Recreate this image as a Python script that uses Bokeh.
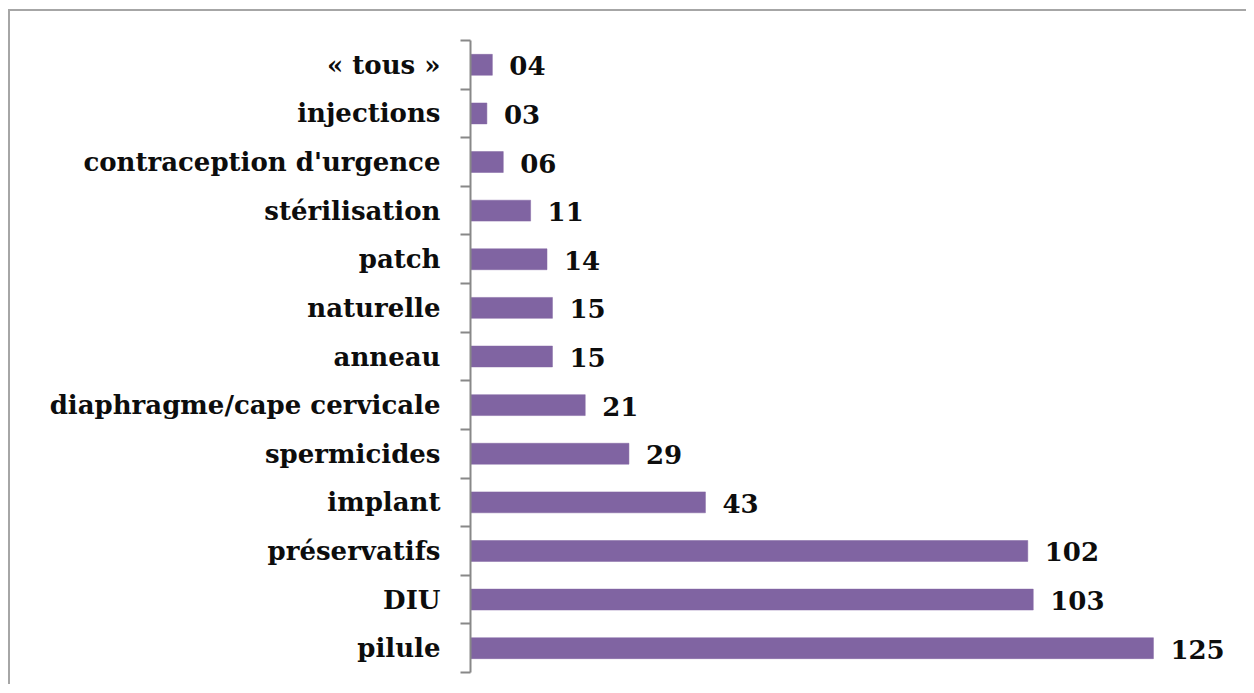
from bokeh.plotting import figure
from bokeh.models import ColumnDataSource, Range1d, FixedTicker
from bokeh.core.properties import value
from bokeh.embed import file_html
from bokeh.resources import INLINE

categories = ["« tous »", "injections", "contraception d'urgence", "stérilisation",
              "patch", "naturelle", "anneau", "diaphragme/cape cervicale",
              "spermicides", "implant", "préservatifs", "DIU", "pilule"]
counts = [4, 3, 6, 11, 14, 15, 15, 21, 29, 43, 102, 103, 125]
count_labels = ["04", "03", "06", "11", "14", "15", "15", "21", "29", "43", "102", "103", "125"]

n = len(categories)
ypos = [n - 1 - i + 0.5 for i in range(n)]

src = ColumnDataSource(dict(cat=categories, cnt=counts, lab=count_labels, y=ypos))

FONT = "DejaVu Serif"
FS = "26px"

p = figure(width=1238, height=675, output_backend="svg", toolbar_location=None,
           x_range=Range1d(0, 142.4), y_range=Range1d(0, n),
           min_border_left=460, min_border_top=29, min_border_bottom=14, min_border_right=0)
p.styles = {"border-top": "2px solid #a6a6a6", "border-left": "2px solid #a6a6a6",
            "margin-top": "9px", "margin-left": "8px"}
p.outline_line_color = None
p.xgrid.visible = False
p.ygrid.visible = False
p.xaxis.visible = False

p.hbar(y="y", right="cnt", left=0, height=0.43, source=src,
       fill_color="#8064A2", line_color="#8064A2", line_width=0.5)
p.text(x="cnt", y="y", text="lab", source=src, x_offset=17, y_offset=1,
       text_baseline="middle", text_align="left",
       text_font=value(FONT), text_font_style="bold", text_font_size=FS,
       text_color="#0d0d0d")

ax = p.yaxis[0]
ax.ticker = FixedTicker(ticks=ypos, minor_ticks=list(range(n + 1)))
ax.major_label_overrides = {y: c for y, c in zip(ypos, categories)}
ax.major_tick_out = 0
ax.major_tick_in = 0
ax.minor_tick_out = 10
ax.minor_tick_in = 0
ax.minor_tick_line_color = "#888888"
ax.minor_tick_line_width = 2
ax.axis_line_color = "#888888"
ax.axis_line_width = 2
ax.major_label_standoff = 20
ax.major_label_text_font = FONT
ax.major_label_text_font_style = "bold"
ax.major_label_text_font_size = FS
ax.major_label_text_color = "#0d0d0d"

open("out.html", "w").write(file_html(p, INLINE))
